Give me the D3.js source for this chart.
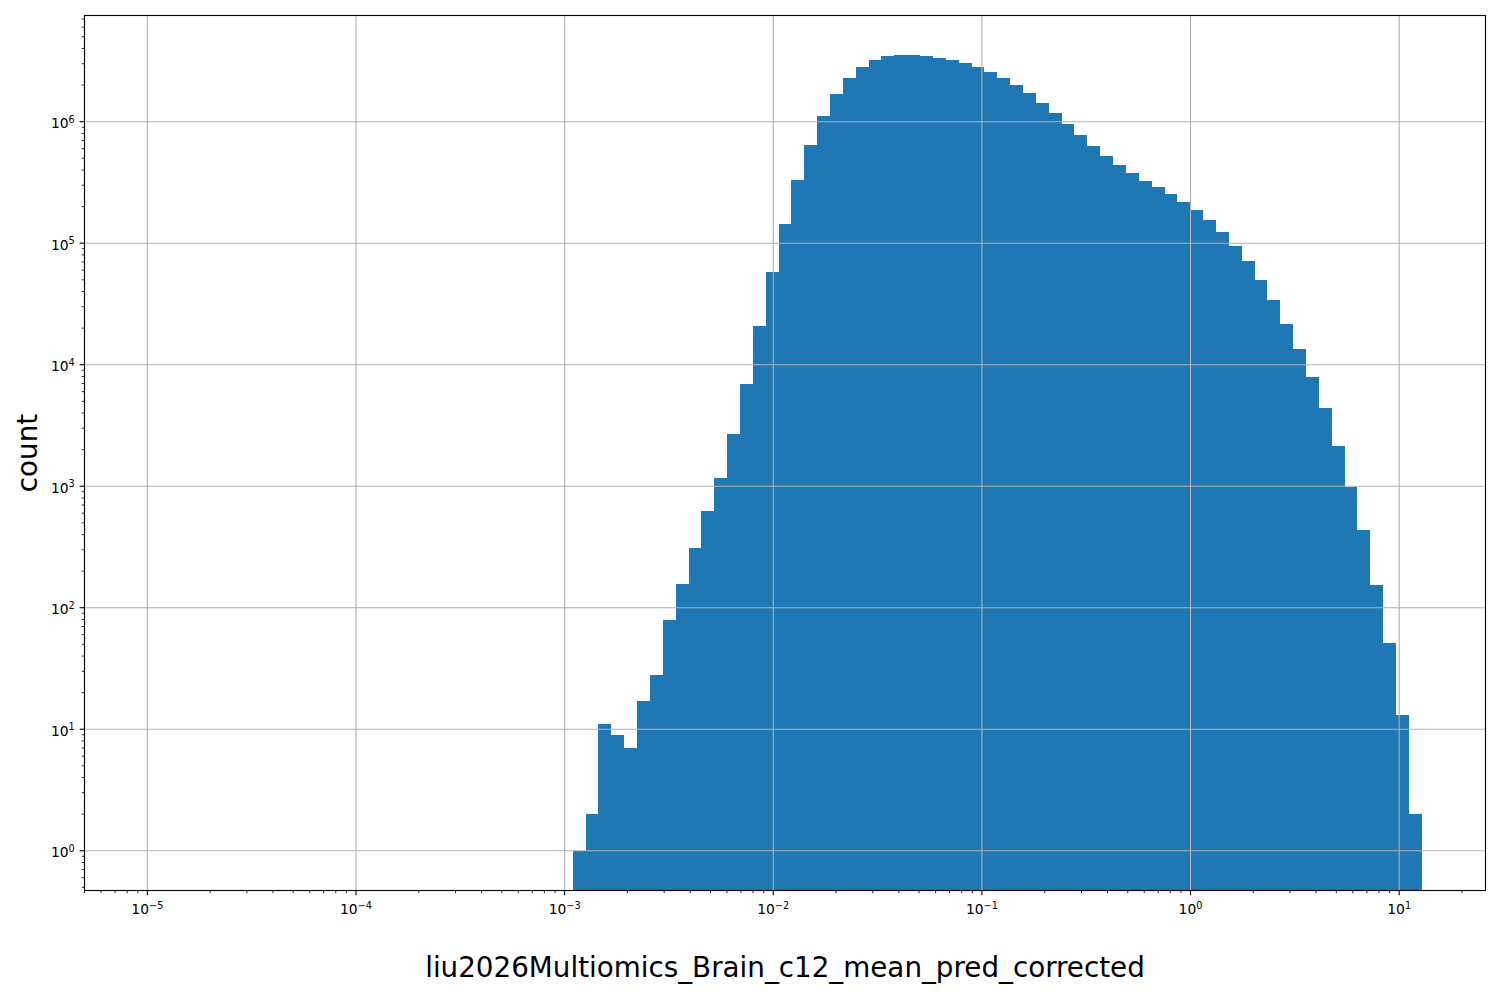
<!DOCTYPE html>
<html>
<head>
<meta charset="utf-8">
<script src="https://cdn.jsdelivr.net/npm/d3@7"></script>
<style>
  body { margin: 0; background: #fff; }
  text { font-family: "DejaVu Sans", sans-serif; }
</style>
</head>
<body>
<svg id="chart" width="1500" height="1000"></svg>
<script>
// ---- data ----
// log-spaced histogram bins: 100 edges from ~1e-5 to ~12.8 (99 bins)
const binExpMin = -4.996;
const binExpMax = 1.1086;
const binCount = 99;
// index of the first non-empty bin; earlier bins are empty
const firstNonzeroBin = 33;
// counts of the non-empty bins, left to right
const counts = [
  1, 2, 11, 9, 7, 17, 28, 79, 158, 308,
  620, 1160, 2670, 6890, 21000, 57500, 145000, 329000, 638000, 1107000,
  1680000, 2270000, 2800000, 3200000, 3450000, 3520000, 3520000, 3450000, 3330000, 3200000,
  3020000, 2800000, 2550000, 2270000, 1990000, 1710000, 1420000, 1170000, 951000, 773000,
  627000, 519000, 437000, 376000, 323000, 288000, 252000, 217000, 186000, 154000,
  123000, 94000, 71000, 49500, 33800, 21500, 13400, 7870, 4370, 2130,
  990, 433, 153, 51, 13, 2
];
const xTickExps = [-5, -4, -3, -2, -1, 0, 1];
const yTickExps = [0, 1, 2, 3, 4, 5, 6];
const xLabel = "liu2026Multiomics_Brain_c12_mean_pred_corrected";
const yLabel = "count";

// ---- layout ----
const L = 84.5, R = 1485.5, T = 15.5, B = 890.5;
const PT = 100 / 72;
const majorLen = 3.5 * PT, minorLen = 2 * PT, pad = 3.5 * PT;
const tickFont = 10 * PT, labelFont = 20 * PT;
const barColor = "#1f77b4";

const svg = d3.select("#chart");

// bin edges (log-spaced)
const edges = d3.range(binCount + 1).map(i => Math.pow(10, binExpMin + i * (binExpMax - binExpMin) / binCount));
const bars = counts.map((c, i) => ({ x0: edges[firstNonzeroBin + i], x1: edges[firstNonzeroBin + i + 1], c }));

// matplotlib-like 5% margins in log space
const xr = binExpMax - binExpMin;
const xDom = [Math.pow(10, binExpMin - 0.05 * xr), Math.pow(10, binExpMax + 0.05 * xr)];
const yMinE = Math.log10(d3.min(counts)), yMaxE = Math.log10(d3.max(counts));
const yr = yMaxE - yMinE;
const yDom = [Math.pow(10, yMinE - 0.05 * yr), Math.pow(10, yMaxE + 0.05 * yr)];

const x = d3.scaleLog().domain(xDom).range([L, R]);
const y = d3.scaleLog().domain(yDom).range([B, T]);

function minorVals(dom) {
  const out = [];
  const e0 = Math.floor(Math.log10(dom[0])), e1 = Math.ceil(Math.log10(dom[1]));
  for (let e = e0; e <= e1; e++) {
    for (let m = 2; m <= 9; m++) {
      const v = m * Math.pow(10, e);
      if (v >= dom[0] && v <= dom[1]) out.push(v);
    }
  }
  return out;
}
const xMajors = xTickExps.map(e => Math.pow(10, e));
const yMajors = yTickExps.map(e => Math.pow(10, e));

// ---- bars ----
svg.append("g")
  .selectAll("rect")
  .data(bars)
  .join("rect")
  .attr("x", d => x(d.x0))
  .attr("width", d => x(d.x1) - x(d.x0))
  .attr("y", d => y(d.c))
  .attr("height", d => B - y(d.c))
  .attr("fill", barColor)
  .attr("shape-rendering", "crispEdges");

// ---- grid (above bars, as matplotlib default) ----
const gx = svg.append("g").attr("transform", `translate(0,${B})`)
  .call(d3.axisBottom(x).offset(0).tickValues(xMajors).tickSize(-(B - T)).tickFormat(""));
gx.select(".domain").remove();
gx.selectAll("line").attr("stroke", "#b0b0b0").attr("stroke-width", 0.8 * PT);

const gy = svg.append("g").attr("transform", `translate(${L},0)`)
  .call(d3.axisLeft(y).offset(0).tickValues(yMajors).tickSize(-(R - L)).tickFormat(""));
gy.select(".domain").remove();
gy.selectAll("line").attr("stroke", "#b0b0b0").attr("stroke-width", 0.8 * PT);

// ---- spines ----
svg.append("rect")
  .attr("x", L).attr("y", T).attr("width", R - L).attr("height", B - T)
  .attr("fill", "none").attr("stroke", "#000").attr("stroke-width", 0.8 * PT);

// ---- ticks ----
function styleTicks(g, w) {
  g.select(".domain").remove();
  g.selectAll("line").attr("stroke", "#000").attr("stroke-width", w);
}
const xMinorAxis = svg.append("g").attr("transform", `translate(0,${B})`)
  .call(d3.axisBottom(x).offset(0).tickValues(minorVals(xDom)).tickSize(minorLen).tickFormat(""));
styleTicks(xMinorAxis, 0.6 * PT);
const xMajorAxis = svg.append("g").attr("transform", `translate(0,${B})`)
  .call(d3.axisBottom(x).offset(0).tickValues(xMajors).tickSize(majorLen).tickFormat(""));
styleTicks(xMajorAxis, 0.8 * PT);

const yMinorAxis = svg.append("g").attr("transform", `translate(${L},0)`)
  .call(d3.axisLeft(y).offset(0).tickValues(minorVals(yDom)).tickSize(minorLen).tickFormat(""));
styleTicks(yMinorAxis, 0.6 * PT);
const yMajorAxis = svg.append("g").attr("transform", `translate(${L},0)`)
  .call(d3.axisLeft(y).offset(0).tickValues(yMajors).tickSize(majorLen).tickFormat(""));
styleTicks(yMajorAxis, 0.8 * PT);

// ---- tick labels: 10^e with superscript ----
const supSize = tickFont * 0.7;
const supShift = -5.3;
function powLabel(sel, e) {
  sel.append("tspan").text("10");
  sel.append("tspan").attr("dy", supShift).attr("font-size", supSize)
    .text(String(e).replace("-", "\u2212"));
}
xMajorAxis.selectAll(".tick").each(function (d) {
  const t = d3.select(this).append("text")
    .attr("x", 0).attr("y", majorLen + pad + 13.8)
    .attr("text-anchor", "middle").attr("fill", "#000")
    .attr("font-size", tickFont)
    .attr("font-family", "DejaVu Sans, sans-serif");
  powLabel(t, Math.round(Math.log10(d)));
});
yMajorAxis.selectAll(".tick").each(function (d) {
  const t = d3.select(this).append("text")
    .attr("x", -(majorLen + pad)).attr("y", 6.4)
    .attr("text-anchor", "end").attr("fill", "#000")
    .attr("font-size", tickFont)
    .attr("font-family", "DejaVu Sans, sans-serif");
  powLabel(t, Math.round(Math.log10(d)));
});

// ---- axis labels ----
svg.append("text")
  .attr("x", (L + R) / 2).attr("y", 976.7)
  .attr("text-anchor", "middle").attr("font-size", labelFont).attr("fill", "#000")
  .text(xLabel);
svg.append("text")
  .attr("transform", `translate(36.7,${(T + B) / 2}) rotate(-90)`)
  .attr("text-anchor", "middle").attr("font-size", labelFont).attr("fill", "#000")
  .text(yLabel);
</script>
</body>
</html>
